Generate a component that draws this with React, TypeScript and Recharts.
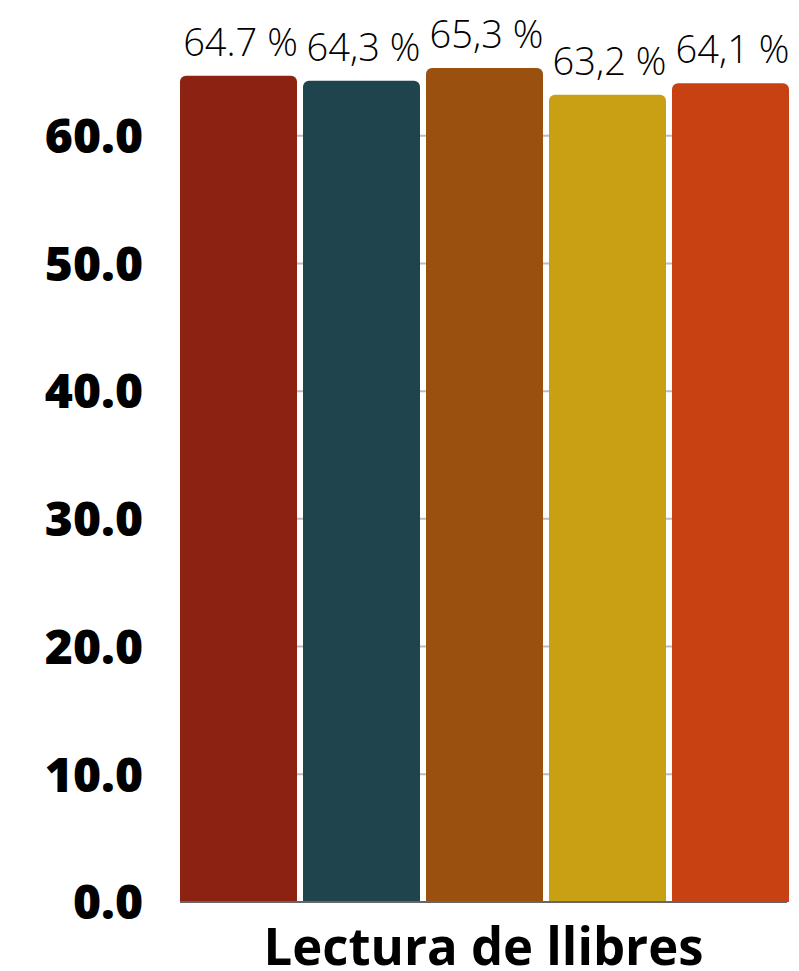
import React from 'react';
import { BarChart, Bar, XAxis, YAxis, CartesianGrid, LabelList } from 'recharts';

const categories = ['Lectura de llibres'];
const seriesKeys = ['s1', 's2', 's3', 's4', 's5'];
const seriesValues = [64.7, 64.3, 65.3, 63.2, 64.1];
const seriesLabels = ['64.7 %', '64,3 %', '65,3 %', '63,2 %', '64,1 %'];
const seriesColors = ['#8C2211', '#20444E', '#9A500F', '#C99F13', '#C84112'];
const yTicks = [0, 10, 20, 30, 40, 50, 60];

const data = categories.map((name) => {
  const row: Record<string, string | number> = { name };
  seriesKeys.forEach((k, i) => {
    row[k] = seriesValues[i];
    row[k + 'Label'] = seriesLabels[i];
  });
  return row;
});

const YTick = ({ x, y, payload }: any) => (
  <text
    x={x}
    y={y}
    dy="0.36em"
    textAnchor="end"
    fontFamily="'Open Sans', sans-serif"
    fontWeight={800}
    fontSize={48}
    fill="#000"
  >
    {Number(payload.value).toFixed(1)}
  </text>
);

const XTick = ({ x, y, payload }: any) => (
  <text
    x={x}
    y={y + 55}
    textAnchor="middle"
    fontFamily="'Open Sans', sans-serif"
    fontWeight={700}
    fontSize={52}
    fill="#000"
    textLength={440}
    lengthAdjust="spacingAndGlyphs"
  >
    {payload.value}
  </text>
);

const BarLabel = ({ x, y, width, value }: any) => (
  <text
    x={x + width / 2 + 2}
    y={y - 20}
    textAnchor="middle"
    fontFamily="'Open Sans', sans-serif"
    fontWeight={300}
    fontSize={38}
    fill="#000"
  >
    {value}
  </text>
);

export default function App() {
  return (
    <BarChart
      width={791}
      height={963}
      data={data}
      margin={{ top: 0, right: 12, left: 0, bottom: 0 }}
      barCategoryGap={0}
      barGap={6}
    >
      <CartesianGrid
        vertical={false}
        horizontalValues={yTicks}
        stroke="#bdbdbd"
        strokeWidth={2}
      />
      <XAxis
        dataKey="name"
        height={69}
        tick={<XTick />}
        tickLine={false}
        axisLine={{ stroke: '#666', strokeWidth: 2 }}
      />
      <YAxis
        width={172}
        domain={[0, 70]}
        ticks={yTicks}
        tick={<YTick />}
        tickLine={false}
        axisLine={false}
        tickMargin={31}
      />
      {seriesKeys.map((k, i) => (
        <Bar
          key={k}
          dataKey={k}
          fill={seriesColors[i]}
          radius={[6, 6, 0, 0]}
          isAnimationActive={false}
        >
          <LabelList dataKey={k + 'Label'} content={<BarLabel />} />
        </Bar>
      ))}
    </BarChart>
  );
}
